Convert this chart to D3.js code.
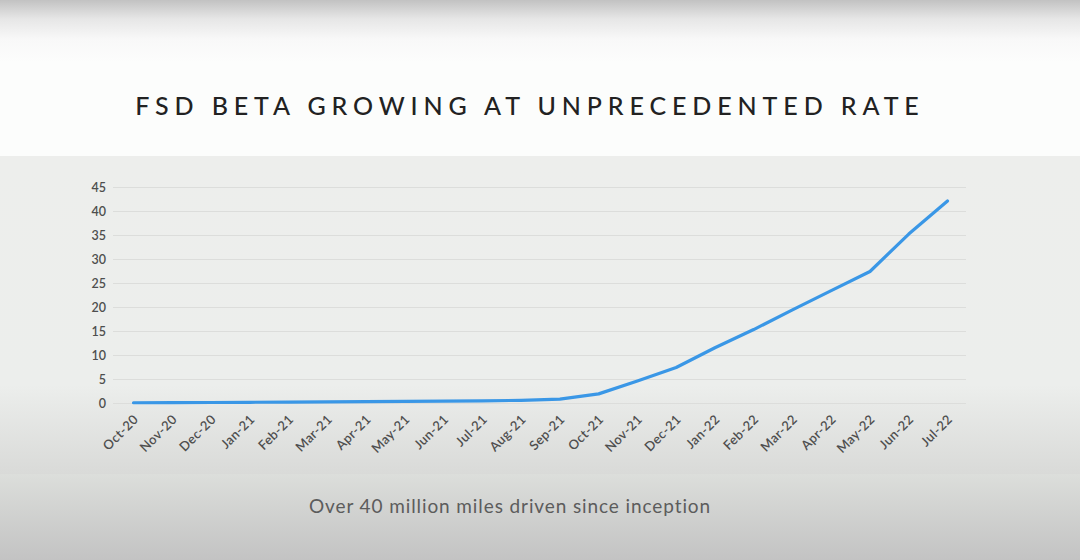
<!DOCTYPE html>
<html>
<head>
<meta charset="utf-8">
<script src="https://cdn.jsdelivr.net/npm/d3@7"></script>
<style>
  body { margin: 0; overflow: hidden; }
  svg { display: block; }
</style>
</head>
<body>
<svg id="chart" width="1080" height="560"></svg>
<script>
// months on the x axis
const months = ["Oct-20", "Nov-20", "Dec-20", "Jan-21", "Feb-21", "Mar-21", "Apr-21", "May-21",
  "Jun-21", "Jul-21", "Aug-21", "Sep-21", "Oct-21", "Nov-21", "Dec-21", "Jan-22", "Feb-22",
  "Mar-22", "Apr-22", "May-22", "Jun-22", "Jul-22"];
// cumulative miles, millions
const miles = [0.05, 0.08, 0.1, 0.15, 0.18, 0.22, 0.28, 0.32, 0.4, 0.45, 0.55, 0.8,
  1.9, 4.6, 7.4, 11.5, 15.3, 19.4, 23.4, 27.4, 35.2, 42.1];
const yTicks = [0, 5, 10, 15, 20, 25, 30, 35, 40, 45];

const svg = d3.select("#chart");
const defs = svg.append("defs");

// background bands
let g1 = defs.append("linearGradient").attr("id", "topg").attr("x1", 0).attr("x2", 0).attr("y1", 0).attr("y2", 1);
g1.append("stop").attr("offset", "0%").attr("stop-color", "#c2c2c2");
g1.append("stop").attr("offset", "12%").attr("stop-color", "#e6e6e6");
g1.append("stop").attr("offset", "25%").attr("stop-color", "#f8f8f8");
g1.append("stop").attr("offset", "40%").attr("stop-color", "#fcfdfc");
g1.append("stop").attr("offset", "100%").attr("stop-color", "#fcfdfc");
svg.append("rect").attr("width", 1080).attr("height", 156).attr("fill", "url(#topg)");

let g2 = defs.append("linearGradient").attr("id", "midg").attr("x1", 0).attr("x2", 0).attr("y1", 0).attr("y2", 1);
g2.append("stop").attr("offset", "0%").attr("stop-color", "#edeeec");
g2.append("stop").attr("offset", "72%").attr("stop-color", "#eceeec");
g2.append("stop").attr("offset", "100%").attr("stop-color", "#d9dad8");
svg.append("rect").attr("y", 156).attr("width", 1080).attr("height", 318).attr("fill", "url(#midg)");

let g3 = defs.append("linearGradient").attr("id", "botg").attr("x1", 0).attr("x2", 0).attr("y1", 0).attr("y2", 1);
g3.append("stop").attr("offset", "0%").attr("stop-color", "#dcdedb");
g3.append("stop").attr("offset", "100%").attr("stop-color", "#c3c3c3");
svg.append("rect").attr("y", 474).attr("width", 1080).attr("height", 86).attr("fill", "url(#botg)");

// title + caption
svg.append("text")
  .attr("x", 530).attr("y", 115)
  .attr("text-anchor", "middle")
  .attr("font-family", "Lato, 'Open Sans', sans-serif")
  .attr("font-size", 25)
  .attr("font-weight", 500)
  .attr("letter-spacing", "5.9px")
  .attr("fill", "#222")
  .text("FSD BETA GROWING AT UNPRECEDENTED RATE");

svg.append("text")
  .attr("x", 510).attr("y", 513)
  .attr("text-anchor", "middle")
  .attr("font-family", "Lato, 'Open Sans', sans-serif")
  .attr("font-size", 19)
  .attr("letter-spacing", "0.9px")
  .attr("fill", "#5c5c5c")
  .text("Over 40 million miles driven since inception");

// scales
const x = d3.scalePoint().domain(months).range([133.5, 947.5]);
const y = d3.scaleLinear().domain([0, 45]).range([403, 187]);

// gridlines
svg.append("g")
  .attr("transform", "translate(113,0)")
  .call(d3.axisLeft(y).tickValues(yTicks).tickSize(-853).tickFormat(""))
  .call(g => g.select(".domain").remove())
  .call(g => g.selectAll("line").attr("stroke", "#dcdddb").attr("stroke-width", 1));

// y labels
svg.append("g")
  .attr("transform", "translate(106,0)")
  .call(d3.axisLeft(y).tickValues(yTicks).tickSize(0).tickPadding(0))
  .call(g => g.select(".domain").remove())
  .call(g => g.selectAll("text")
    .attr("font-family", "Lato, 'Open Sans', sans-serif")
    .attr("font-size", 12.5)
    .attr("font-weight", 600)
    .attr("fill", "#4e4e4e"));

// x labels
svg.append("g")
  .attr("transform", "translate(0,403)")
  .call(d3.axisBottom(x).tickSize(0).tickPadding(0))
  .call(g => g.select(".domain").remove())
  .call(g => g.selectAll("text")
    .attr("font-family", "Lato, 'Open Sans', sans-serif")
    .attr("font-size", 13)
    .attr("font-weight", 600)
    .attr("letter-spacing", "0.4px")
    .attr("fill", "#4e4e4e")
    .attr("text-anchor", "end")
    .attr("dy", "0.35em")
    .attr("transform", "translate(2,14) rotate(-45)"));

// line
const line = d3.line()
  .x((d, i) => x(months[i]))
  .y(d => y(d));

svg.append("path")
  .datum(miles)
  .attr("d", line)
  .attr("fill", "none")
  .attr("stroke", "#3a97e6")
  .attr("stroke-width", 3.2)
  .attr("stroke-linejoin", "round")
  .attr("stroke-linecap", "round");
</script>
</body>
</html>
